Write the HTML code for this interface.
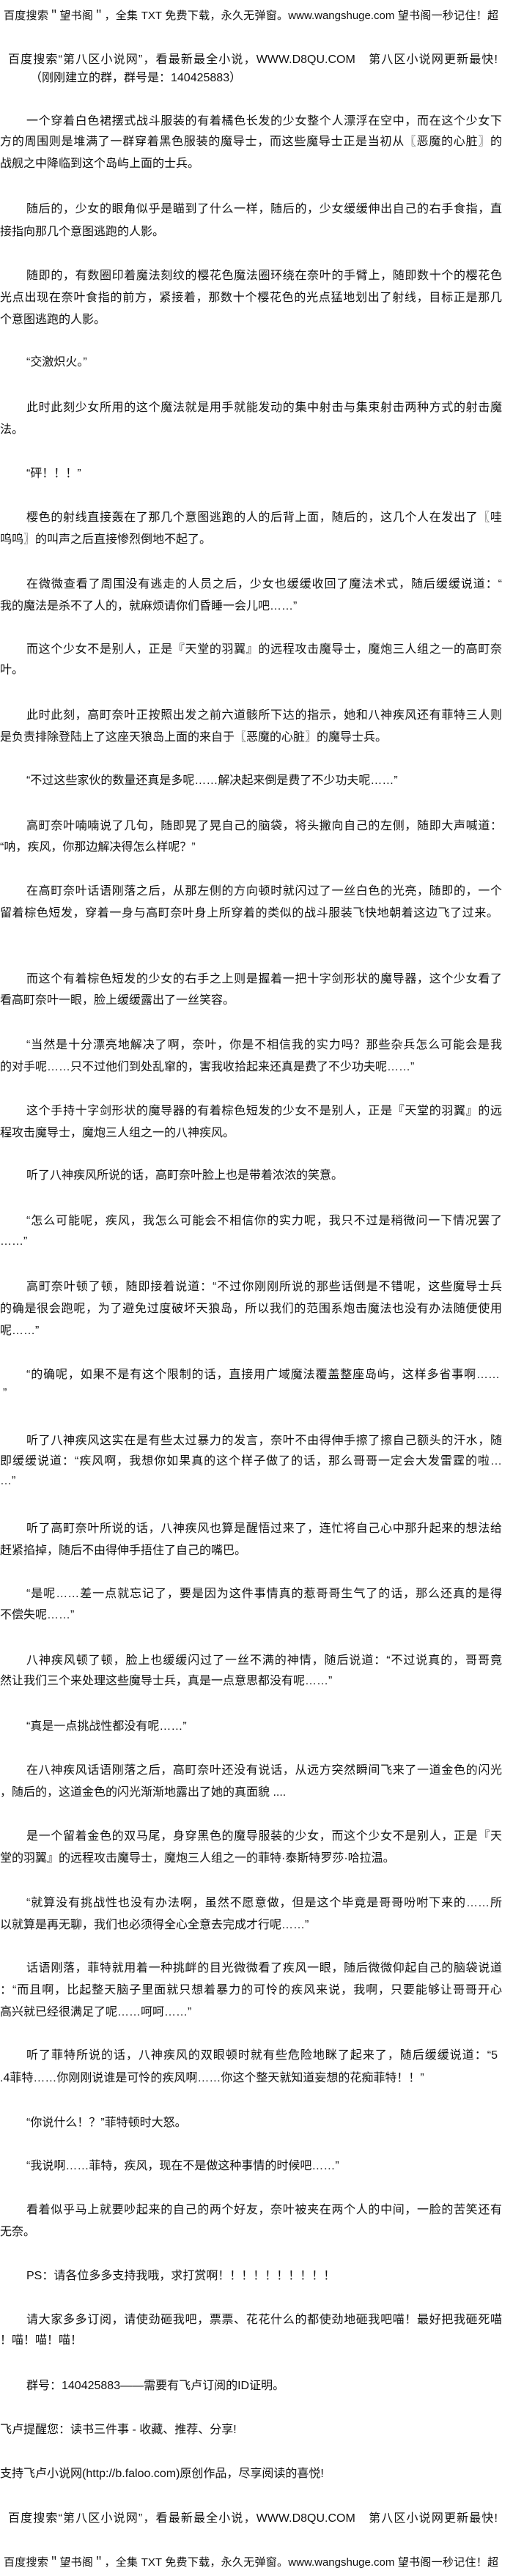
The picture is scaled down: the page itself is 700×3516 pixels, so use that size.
<!DOCTYPE html>
<html><head><meta charset="utf-8">
<style>
html,body{margin:0;padding:0;background:#fff;}
body{width:700px;height:3516px;position:relative;overflow:hidden;font-family:"Liberation Sans","Noto Sans CJK SC","WenQuanYi Zen Hei",sans-serif;color:#111;}
.l{position:absolute;left:0;white-space:nowrap;font-size:16px;line-height:20px;height:20px;}
.i{left:36px;}
.j{text-align:justify;text-align-last:justify;white-space:normal;overflow:hidden;}
.ji{left:36px;width:649px;}
.jf{left:0;width:685px;}
</style></head><body>
<div class="l j" style="top:12px;left:5px;width:675px;font-size:15px">百度搜索＂望书阁＂，全集 TXT 免费下载，永久无弹窗。www.wangshuge.com 望书阁一秒记住！超快更新!</div>
<div class="l j" style="top:72px;left:11px;width:668px">百度搜索“第八区小说网”，看最新最全小说，WWW.D8QU.COM　第八区小说网更新最快!</div>
<div class="l" style="top:97px;left:41px">（刚刚建立的群，群号是：140425883）</div>

<div class="l j ji" style="top:156px">一个穿着白色裙摆式战斗服装的有着橘色长发的少女整个人漂浮在空中，而在这个少女下</div>
<div class="l j jf" style="top:184px">方的周围则是堆满了一群穿着黑色服装的魔导士，而这些魔导士正是当初从〖恶魔的心脏〗的</div>
<div class="l" style="top:214px">战舰之中降临到这个岛屿上面的士兵。</div>

<div class="l j ji" style="top:276px">随后的，少女的眼角似乎是瞄到了什么一样，随后的，少女缓缓伸出自己的右手食指，直</div>
<div class="l" style="top:307px">接指向那几个意图逃跑的人影。</div>

<div class="l j ji" style="top:367px">随即的，有数圈印着魔法刻纹的樱花色魔法圈环绕在奈叶的手臂上，随即数十个的樱花色</div>
<div class="l j jf" style="top:397px">光点出现在奈叶食指的前方，紧接着，那数十个樱花色的光点猛地划出了射线，目标正是那几</div>
<div class="l" style="top:427px">个意图逃跑的人影。</div>

<div class="l i" style="top:485px">“交激炽火。”</div>

<div class="l j ji" style="top:547px">此时此刻少女所用的这个魔法就是用手就能发动的集中射击与集束射击两种方式的射击魔</div>
<div class="l" style="top:577px">法。</div>

<div class="l i" style="top:637px">“砰！！！”</div>

<div class="l j ji" style="top:697px">樱色的射线直接轰在了那几个意图逃跑的人的后背上面，随后的，这几个人在发出了〖哇</div>
<div class="l" style="top:727px">呜呜〗的叫声之后直接惨烈倒地不起了。</div>

<div class="l j ji" style="top:788px">在微微查看了周围没有逃走的人员之后，少女也缓缓收回了魔法术式，随后缓缓说道：“</div>
<div class="l" style="top:818px">我的魔法是杀不了人的，就麻烦请你们昏睡一会儿吧……”</div>

<div class="l j ji" style="top:877px">而这个少女不是别人，正是『天堂的羽翼』的远程攻击魔导士，魔炮三人组之一的高町奈</div>
<div class="l" style="top:905px">叶。</div>

<div class="l j ji" style="top:967px">此时此刻，高町奈叶正按照出发之前六道骸所下达的指示，她和八神疾风还有菲特三人则</div>
<div class="l" style="top:997px">是负责排除登陆上了这座天狼岛上面的来自于〖恶魔的心脏〗的魔导士兵。</div>

<div class="l i" style="top:1056px">“不过这些家伙的数量还真是多呢……解决起来倒是费了不少功夫呢……”</div>

<div class="l j ji" style="top:1118px">高町奈叶喃喃说了几句，随即晃了晃自己的脑袋，将头撇向自己的左侧，随即大声喊道：</div>
<div class="l" style="top:1147px">“呐，疾风，你那边解决得怎么样呢？”</div>

<div class="l j ji" style="top:1207px">在高町奈叶话语刚落之后，从那左侧的方向顿时就闪过了一丝白色的光亮，随即的，一个</div>
<div class="l j" style="top:1237px;left:0;width:680px">留着棕色短发，穿着一身与高町奈叶身上所穿着的类似的战斗服装飞快地朝着这边飞了过来。</div>

<div class="l j ji" style="top:1327px">而这个有着棕色短发的少女的右手之上则是握着一把十字剑形状的魔导器，这个少女看了</div>
<div class="l" style="top:1356px">看高町奈叶一眼，脸上缓缓露出了一丝笑容。</div>

<div class="l j ji" style="top:1417px">“当然是十分漂亮地解决了啊，奈叶，你是不相信我的实力吗？那些杂兵怎么可能会是我</div>
<div class="l" style="top:1447px">的对手呢……只不过他们到处乱窜的，害我收拾起来还真是费了不少功夫呢……”</div>

<div class="l j ji" style="top:1507px">这个手持十字剑形状的魔导器的有着棕色短发的少女不是别人，正是『天堂的羽翼』的远</div>
<div class="l" style="top:1537px">程攻击魔导士，魔炮三人组之一的八神疾风。</div>

<div class="l i" style="top:1595px">听了八神疾风所说的话，高町奈叶脸上也是带着浓浓的笑意。</div>

<div class="l j ji" style="top:1657px">“怎么可能呢，疾风，我怎么可能会不相信你的实力呢，我只不过是稍微问一下情况罢了</div>
<div class="l" style="top:1685px">……”</div>

<div class="l j ji" style="top:1747px">高町奈叶顿了顿，随即接着说道：“不过你刚刚所说的那些话倒是不错呢，这些魔导士兵</div>
<div class="l j jf" style="top:1777px">的确是很会跑呢，为了避免过度破坏天狼岛，所以我们的范围系炮击魔法也没有办法随便使用</div>
<div class="l" style="top:1807px">呢……”</div>

<div class="l j" style="top:1867px;left:36px;width:646px">“的确呢，如果不是有这个限制的话，直接用广域魔法覆盖整座岛屿，这样多省事啊……</div>
<div class="l" style="top:1892px;left:4px">”</div>

<div class="l j ji" style="top:1957px">听了八神疾风这实在是有些太过暴力的发言，奈叶不由得伸手擦了擦自己额头的汗水，随</div>
<div class="l j jf" style="top:1985px">即缓缓说道：“疾风啊，我想你如果真的这个样子做了的话，那么哥哥一定会大发雷霆的啦…</div>
<div class="l" style="top:2012px">…”</div>

<div class="l j ji" style="top:2077px">听了高町奈叶所说的话，八神疾风也算是醒悟过来了，连忙将自己心中那升起来的想法给</div>
<div class="l" style="top:2107px">赶紧掐掉，随后不由得伸手捂住了自己的嘴巴。</div>

<div class="l j ji" style="top:2166px">“是呢……差一点就忘记了，要是因为这件事情真的惹哥哥生气了的话，那么还真的是得</div>
<div class="l" style="top:2195px">不偿失呢……”</div>

<div class="l j ji" style="top:2257px">八神疾风顿了顿，脸上也缓缓闪过了一丝不满的神情，随后说道：“不过说真的，哥哥竟</div>
<div class="l" style="top:2285px">然让我们三个来处理这些魔导士兵，真是一点意思都没有呢……”</div>

<div class="l i" style="top:2347px">“真是一点挑战性都没有呢……”</div>

<div class="l j ji" style="top:2407px">在八神疾风话语刚落之后，高町奈叶还没有说话，从远方突然瞬间飞来了一道金色的闪光</div>
<div class="l" style="top:2437px">，随后的，这道金色的闪光渐渐地露出了她的真面貌 ....</div>

<div class="l j ji" style="top:2497px">是一个留着金色的双马尾，身穿黑色的魔导服装的少女，而这个少女不是别人，正是『天</div>
<div class="l" style="top:2527px">堂的羽翼』的远程攻击魔导士，魔炮三人组之一的菲特·泰斯特罗莎·哈拉温。</div>

<div class="l j ji" style="top:2588px">“就算没有挑战性也没有办法啊，虽然不愿意做，但是这个毕竟是哥哥吩咐下来的……所</div>
<div class="l" style="top:2618px">以就算是再无聊，我们也必须得全心全意去完成才行呢……”</div>

<div class="l j ji" style="top:2677px">话语刚落，菲特就用着一种挑衅的目光微微看了疾风一眼，随后微微仰起自己的脑袋说道</div>
<div class="l j jf" style="top:2707px">：“而且啊，比起整天脑子里面就只想着暴力的可怜的疾风来说，我啊，只要能够让哥哥开心</div>
<div class="l" style="top:2737px">高兴就已经很满足了呢……呵呵……”</div>

<div class="l j" style="top:2796px;left:36px;width:643px">听了菲特所说的话，八神疾风的双眼顿时就有些危险地眯了起来了，随后缓缓说道：“5</div>
<div class="l" style="top:2827px">.4菲特……你刚刚说谁是可怜的疾风啊……你这个整天就知道妄想的花痴菲特！！”</div>

<div class="l i" style="top:2888px">“你说什么！？”菲特顿时大怒。</div>

<div class="l i" style="top:2947px">“我说啊……菲特，疾风，现在不是做这种事情的时候吧……”</div>

<div class="l j ji" style="top:3007px">看着似乎马上就要吵起来的自己的两个好友，奈叶被夹在两个人的中间，一脸的苦笑还有</div>
<div class="l" style="top:3037px">无奈。</div>

<div class="l i" style="top:3097px">PS：请各位多多支持我哦，求打赏啊！！！！！！！！！！</div>

<div class="l j ji" style="top:3157px">请大家多多订阅，请使劲砸我吧，票票、花花什么的都使劲地砸我吧喵！最好把我砸死喵</div>
<div class="l" style="top:3185px">！喵！喵！喵！</div>

<div class="l i" style="top:3247px">群号：140425883——需要有飞卢订阅的ID证明。</div>
<div class="l" style="top:3307px">飞卢提醒您：读书三件事 - 收藏、推荐、分享!</div>
<div class="l" style="top:3367px">支持飞卢小说网(http://b.faloo.com)原创作品，尽享阅读的喜悦!</div>
<div class="l j" style="top:3428px;left:11px;width:668px">百度搜索“第八区小说网”，看最新最全小说，WWW.D8QU.COM　第八区小说网更新最快!</div>
<div class="l j" style="top:3488px;left:5px;width:675px;font-size:15px">百度搜索＂望书阁＂，全集 TXT 免费下载，永久无弹窗。www.wangshuge.com 望书阁一秒记住！超快更新!</div>
</body></html>
